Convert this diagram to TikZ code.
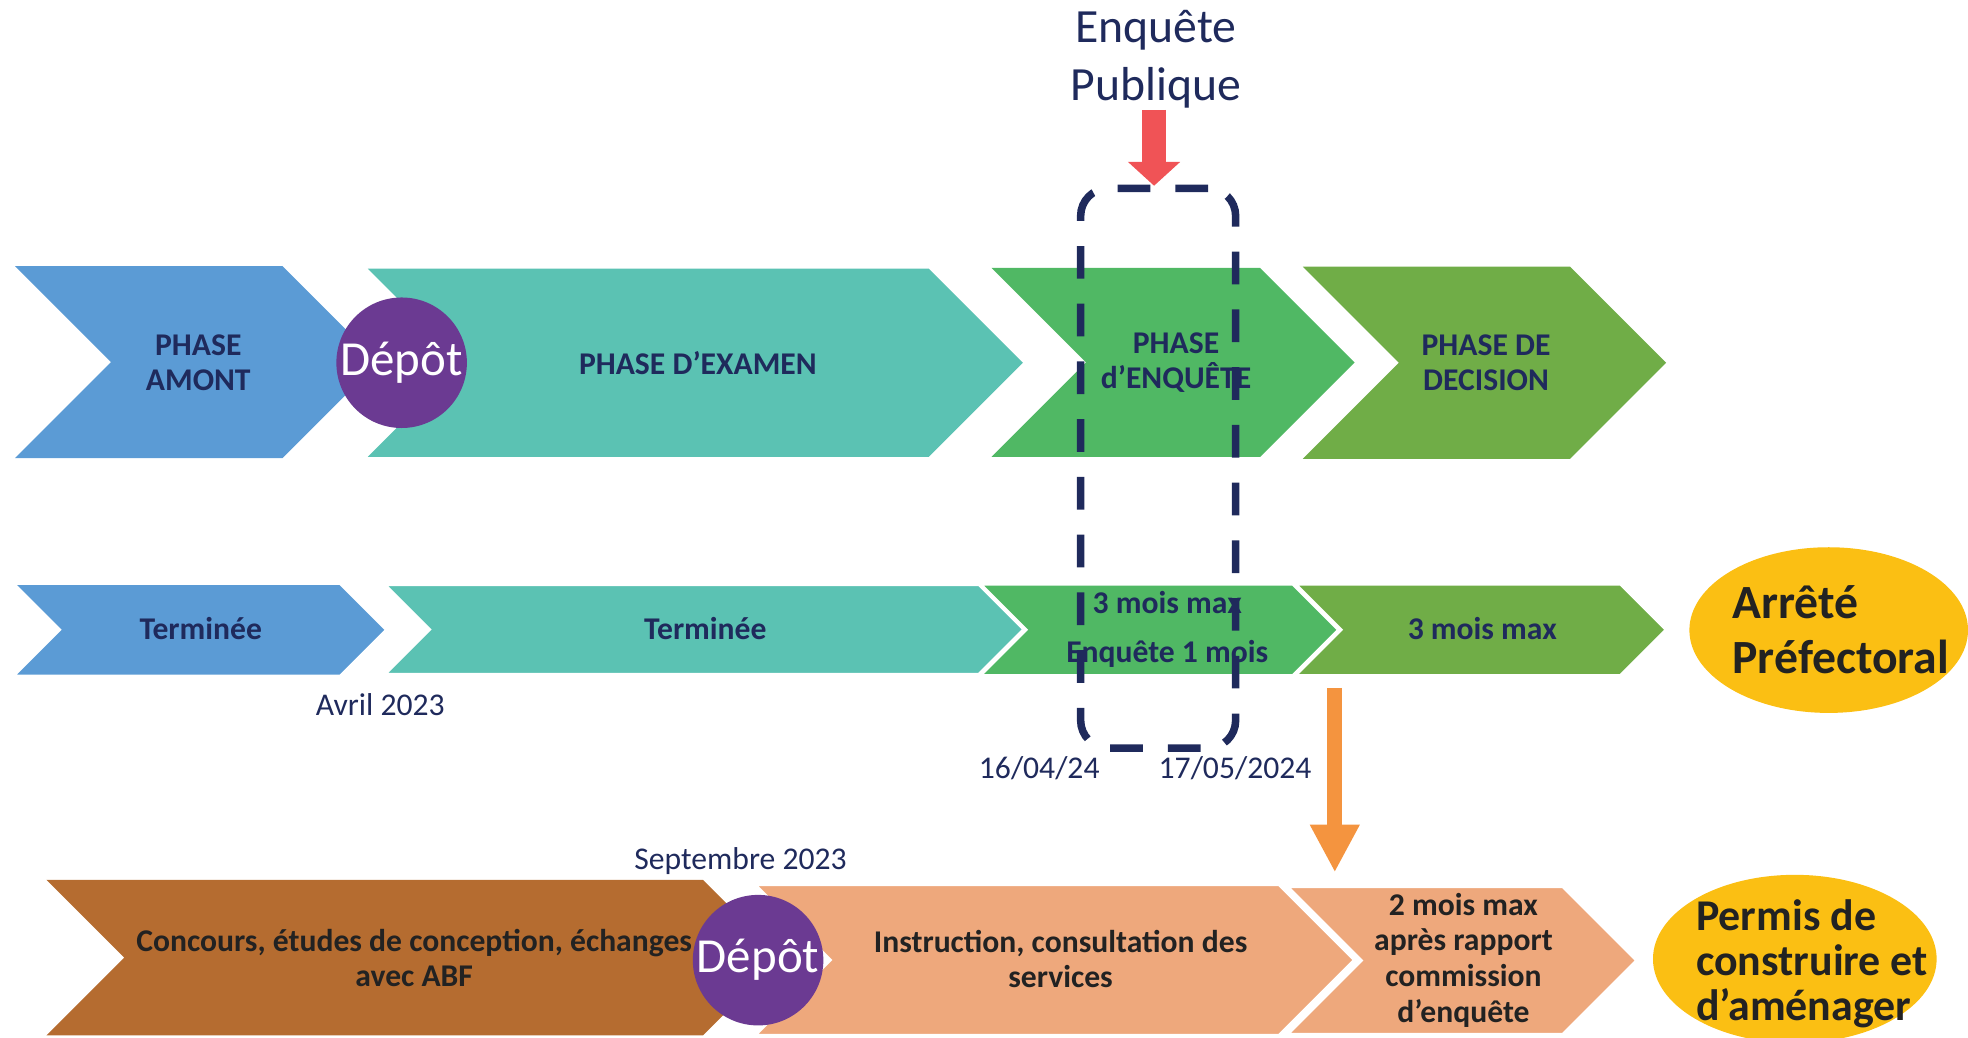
\documentclass[tikz,border=0pt]{standalone}
\usepackage{fontspec}
\setmainfont{Carlito}
\usetikzlibrary{arrows.meta,shapes.geometric}
\definecolor{cblue}{HTML}{5B9BD5}
\definecolor{cteal}{HTML}{5BC2B3}
\definecolor{cgreen}{HTML}{50B864}
\definecolor{colive}{HTML}{70AD47}
\definecolor{cpurple}{HTML}{6B3A92}
\definecolor{cnavy}{HTML}{1F2A5C}
\definecolor{cred}{HTML}{F05356}
\definecolor{corange}{HTML}{F4943F}
\definecolor{cyellow}{HTML}{FBBF13}
\definecolor{cbrown}{HTML}{B56C30}
\definecolor{csalmon}{HTML}{EEA87C}
\definecolor{cdark}{HTML}{222222}
\newcommand\chev[5]{%
  \pgfmathsetmacro\chd{(#5-#4)/2}%
  \pgfmathsetmacro\chm{(#5+#4)/2}%
  \path[#1] (#2,#4) -- (#3,#4) -- ({#3+\chd},\chm) -- (#3,#5) -- (#2,#5) -- ({#2+\chd},\chm) -- cycle;}
\begin{document}
\begin{tikzpicture}[x=0.5pt,y=-0.5pt,
  lab/.style={font=\fontsize{12.6}{14}\selectfont\bfseries, text=cnavy, align=center, inner sep=0pt},
  labd/.style={lab, text=cdark},
  datelab/.style={font=\fontsize{12.6}{14}\selectfont, text=cnavy, inner sep=0pt},
  depot/.style={circle, fill=cpurple, minimum size=52pt, inner sep=0pt, text=white, font=\fontsize{19.5}{20}\selectfont},
  outc/.style={draw=white, line width=1pt},
  yell/.style={ellipse, fill=cyellow, inner sep=0pt},
  bigl/.style={font=\fontsize{19}{22}\selectfont\bfseries, text=cdark, align=left, inner sep=0pt, anchor=west}]
\useasboundingbox (0,0) rectangle (1568,827);
% Row 1
\chev{fill=cblue}{12}{225}{212}{365}
\chev{fill=cteal}{293}{740}{214}{364}
\chev{fill=cgreen}{790}{1004}{213.5}{364}
\chev{fill=colive}{1038}{1251}{212.5}{365.5}
\node[lab] (pa) at (158,289) {PHASE\\AMONT};
\node[lab] (pe) at (556,289) {PHASE D’EXAMEN};
\node[lab] (pq) at (937,289) {PHASE\\d’ENQUÊTE};
\node[lab] (pd) at (1184,289) {PHASE DE\\DECISION};
\node[depot] (d1) at (320,289) {\raisebox{-1pt}{Dépôt}};
% Row 2
\chev{fill=cblue,outc}{11}{271}{465}{538.5}
\chev{fill=cteal,outc}{307}{780}{466}{537}
\chev{fill=cgreen,outc}{781.5}{1030}{465.5}{538}
\chev{fill=colive,outc}{1032.5}{1291}{465.5}{538}
\node[lab] (t1) at (160,501) {Terminée};
\node[lab] (t2) at (562,501) {Terminée};
\node[lab, font=\fontsize{12.6}{19.5}\selectfont\bfseries] (t3) at (930,501.5) {3 mois max\\Enquête 1 mois};
\node[lab] (t4) at (1181,501) {3 mois max};
\node[yell, minimum width=111pt, minimum height=66pt] (arr) at (1457,502) {};
\node[bigl] (arrt) at (1380,502) {Arrêté\\Préfectoral};
\node[datelab] (av) at (303,561) {Avril 2023};
\node[datelab] (da) at (828,612) {16/04/24};
\node[datelab] (db) at (984,612) {17/05/2024};
% Row 3
\chev{fill=cbrown}{37}{560}{701}{825}
\chev{fill=csalmon,outc}{602}{1019}{705}{824.7}
\chev{fill=csalmon,outc}{1026}{1245}{706.5}{824}
\node[labd] (c1) at (330,763) {Concours, études de conception, échanges\\avec ABF};
\node[labd] (c2) at (845,764) {Instruction, consultation des\\services};
\node[labd, font=\fontsize{12.6}{14.25}\selectfont\bfseries] (c3) at (1166,765) {2 mois max\\après rapport\\commission\\d’enquête};
\node[depot] (d2) at (604,765) {\raisebox{-1pt}{Dépôt}};
\node[datelab] (sep) at (590,686) {Septembre 2023};
\node[yell, minimum width=113pt, minimum height=67pt] (perm) at (1430,764) {};
\node[bigl, font=\fontsize{17.5}{18}\selectfont\bfseries] (permt) at (1351,768) {Permis de\\construire et\\d’aménager};
% Enquete publique
\node[font=\fontsize{19}{23}\selectfont, text=cnavy, align=center, inner sep=0pt] (enq) at (921,47) {Enquête\\Publique};
\node[draw=cnavy, line width=3pt, dash pattern=on 13pt off 10pt, rounded corners=11pt,
  minimum width=61.75pt, minimum height=223pt, inner sep=0pt] (ebox) at (922.75,373) {};
\coordinate (ra) at (919.5,87.5);
\coordinate (rb) at (919.5,148);
\draw[cred, line width=9.7pt, -{Triangle[width=20.25pt,length=9.5pt]}] (ra) -- (rb);
\coordinate (oa) at (1063.5,548);
\coordinate (ob) at (1063.5,695);
\draw[corange, line width=6pt, -{Triangle[width=18.5pt,length=19pt]}] (oa) -- (ob);
\end{tikzpicture}
\end{document}
